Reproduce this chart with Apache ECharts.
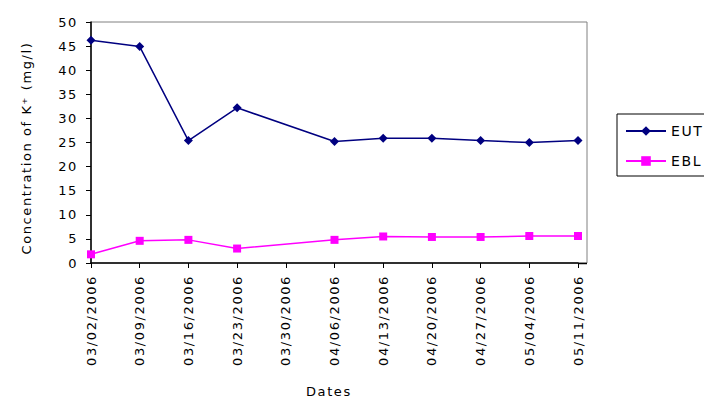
<!DOCTYPE html>
<html>
<head>
<meta charset="utf-8">
<script src="https://cdn.jsdelivr.net/npm/echarts@6/dist/echarts.min.js"></script>
<style>
  html, body { margin: 0; padding: 0; background: #fff; }
  #chart { width: 704px; height: 400px; }
  /* wide, airy lettering for every chart label */
  #chart text { letter-spacing: 1.6px; }
</style>
</head>
<body>
<div id="chart"></div>
<script>
// Sampling dates (weekly)
const dates = ['03/02/2006', '03/09/2006', '03/16/2006', '03/23/2006', '03/30/2006',
  '04/06/2006', '04/13/2006', '04/20/2006', '04/27/2006', '05/04/2006', '05/11/2006'];
// K+ concentration (mg/l); no sample on 03/30
const eut = [46.2, 44.9, 25.4, 32.2, null, 25.2, 25.9, 25.9, 25.4, 25.0, 25.4];
const ebl = [1.8, 4.6, 4.8, 3.0, null, 4.8, 5.5, 5.4, 5.4, 5.6, 5.6];
const yTicks = [0, 5, 10, 15, 20, 25, 30, 35, 40, 45, 50];

const font = '"DejaVu Sans", Arial, sans-serif';
const chart = echarts.init(document.getElementById('chart'), null, { renderer: 'svg' });

chart.setOption({
  backgroundColor: '#fff',
  animation: false,
  textStyle: { fontFamily: font },
  grid: { left: 91, right: 126, top: 22, bottom: 137 },
  graphic: [
    // plot frame extends a little past the last date
    { type: 'rect', shape: { x: 91, y: 22, width: 496, height: 241 },
      style: { fill: null, stroke: '#808080', lineWidth: 1 }, z: 0 },
    { type: 'line', shape: { x1: 578, y1: 263.5, x2: 587, y2: 263.5 },
      style: { stroke: '#000', lineWidth: 1.5 }, z: 10 },
    // axis titles
    { type: 'text', x: 26, y: 148, rotation: Math.PI / 2,
      style: { text: 'Concentration of K\u207A (mg/l)', font: '13px ' + font, fill: '#000',
               align: 'center', verticalAlign: 'middle' } },
    { type: 'text', left: 306, top: 385,
      style: { text: 'Dates', font: '13px ' + font, fill: '#000' } }
  ],
  legend: {
    orient: 'vertical', left: 617, top: 114,
    padding: [10, 6, 8, 8], itemGap: 16,
    itemWidth: 40, itemHeight: 12,
    borderColor: '#000', borderWidth: 1,
    textStyle: { fontSize: 14, color: '#000', fontFamily: font },
    data: ['EUT', 'EBL']
  },
  xAxis: {
    type: 'category', data: dates, boundaryGap: false,
    axisLine: { lineStyle: { color: '#000', width: 1.5 } },
    axisTick: { show: true, length: 5, lineStyle: { color: '#000' } },
    axisLabel: { rotate: 90, fontSize: 13, color: '#000', margin: 12, interval: 0 },
    splitLine: { show: false }
  },
  yAxis: {
    type: 'value', min: 0, max: 50, interval: 5,
    axisLine: { show: true, lineStyle: { color: '#000', width: 1.5 } },
    axisTick: { show: true, length: 5, lineStyle: { color: '#000' } },
    axisLabel: {
      fontSize: 13, color: '#000', margin: 13,
      formatter: v => (yTicks.includes(v) ? String(v) : '')
    },
    splitLine: { show: false }
  },
  series: [
    {
      name: 'EUT', type: 'line', data: eut, connectNulls: true,
      symbol: 'diamond', symbolSize: 9,
      lineStyle: { color: '#000080', width: 1.5 },
      itemStyle: { color: '#000080' }
    },
    {
      name: 'EBL', type: 'line', data: ebl, connectNulls: true,
      symbol: 'rect', symbolSize: 8,
      lineStyle: { color: '#FF00FF', width: 1.5 },
      itemStyle: { color: '#FF00FF' }
    }
  ]
});
</script>
</body>
</html>
